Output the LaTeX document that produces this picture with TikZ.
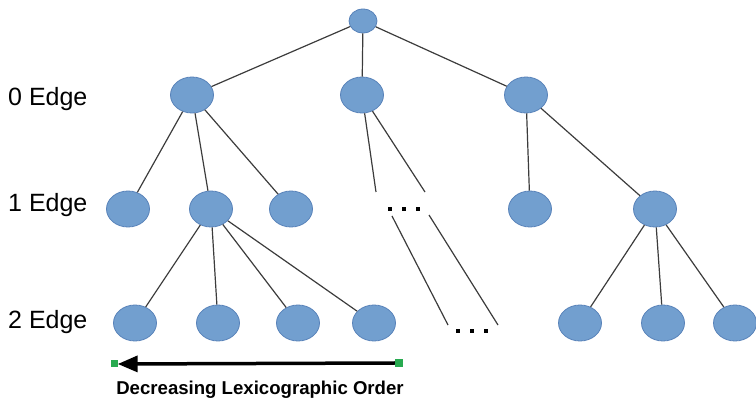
\documentclass[tikz,border=0pt]{standalone}
\usepackage{fontspec}
\setmainfont{Liberation Sans}
\usetikzlibrary{arrows.meta,shapes.geometric}
\definecolor{nodeblue}{RGB}{114, 159, 207}
\definecolor{nodeedge}{RGB}{88, 130, 185}
\definecolor{linkgray}{RGB}{60, 60, 60}
\definecolor{markgreen}{RGB}{40, 170, 80}

\begin{document}
\begin{tikzpicture}[x=1pt, y=-1pt,
    vtx/.style={ellipse, draw=nodeedge, fill=nodeblue, line width=0.8pt,
        minimum width=43pt, minimum height=36pt, inner sep=0pt},
    rootvtx/.style={vtx, minimum width=28pt, minimum height=24pt},
    link/.style={draw=linkgray, line width=1.2pt},
    level/.style={anchor=base west, inner sep=0pt, font=\fontsize{25}{30}\selectfont}]
        \useasboundingbox (0,0) rectangle (756,398);

        % Tree nodes, one row per level
        \node[rootvtx] (root) at (363,21) {};
        \node[vtx] (a0) at (192,95) {};
        \node[vtx] (b0) at (362,95) {};
        \node[vtx] (c0) at (526,95) {};

        \node[vtx] (a1) at (128,209) {};
        \node[vtx] (b1) at (211,209) {};
        \node[vtx] (c1) at (291,209) {};
        \node[vtx] (d1) at (530,209) {};
        \node[vtx] (e1) at (655,209) {};

        \node[vtx] (a2) at (135,323) {};
        \node[vtx] (b2) at (218,323) {};
        \node[vtx] (c2) at (298,323) {};
        \node[vtx] (d2) at (374,323) {};
        \node[vtx] (e2) at (580,323) {};
        \node[vtx] (f2) at (663,323) {};
        \node[vtx] (g2) at (735,323) {};

        % Edges
        \draw[link] (root) -- (a0);
        \draw[link] (root) -- (b0);
        \draw[link] (root) -- (c0);
        \draw[link] (a0) -- (a1);
        \draw[link] (a0) -- (b1);
        \draw[link] (a0) -- (c1);
        \draw[link] (c0) -- (d1);
        \draw[link] (c0) -- (e1);
        \foreach \n in {a2,b2,c2,d2} \draw[link] (b1) -- (\n);
        \foreach \n in {e2,f2,g2} \draw[link] (e1) -- (\n);

        % Elided part of the tree
        \coordinate (gapA) at (376,192);
        \coordinate (gapB) at (425,192);
        \coordinate (gapC) at (392,216);
        \coordinate (gapD) at (448,325);
        \coordinate (gapE) at (429,215);
        \coordinate (gapF) at (498,325);
        \draw[link] (b0) -- (gapA);
        \draw[link] (b0) -- (gapB);
        \draw[link] (gapC) -- (gapD);
        \draw[link] (gapE) -- (gapF);
        \foreach \x in {390,404,418} \fill (\x-2,207) rectangle ++(4,4);
        \foreach \x in {458,472,486} \fill (\x-2,329) rectangle ++(4,4);

        % Level labels
        \node[level] (lab0) at (8,106) {0 Edge};
        \node[level] (lab1) at (8,212) {1 Edge};
        \node[level] (lab2) at (8,329) {2 Edge};

        % Ordering arrow
        \node[fill=markgreen, minimum size=8pt, inner sep=0pt] (ordR) at (399,363) {};
        \node[fill=markgreen, minimum size=7pt, inner sep=0pt] (ordL) at (114,364) {};
        \draw[line width=3.5pt, -{Triangle[length=20pt, width=16pt]}] (ordR.west) -- (ordL.east);
        \node[anchor=base, font=\fontsize{18.6}{22}\selectfont\bfseries] (ordtxt) at (260,395) {Decreasing Lexicographic Order};
      \end{tikzpicture}
\end{document}
